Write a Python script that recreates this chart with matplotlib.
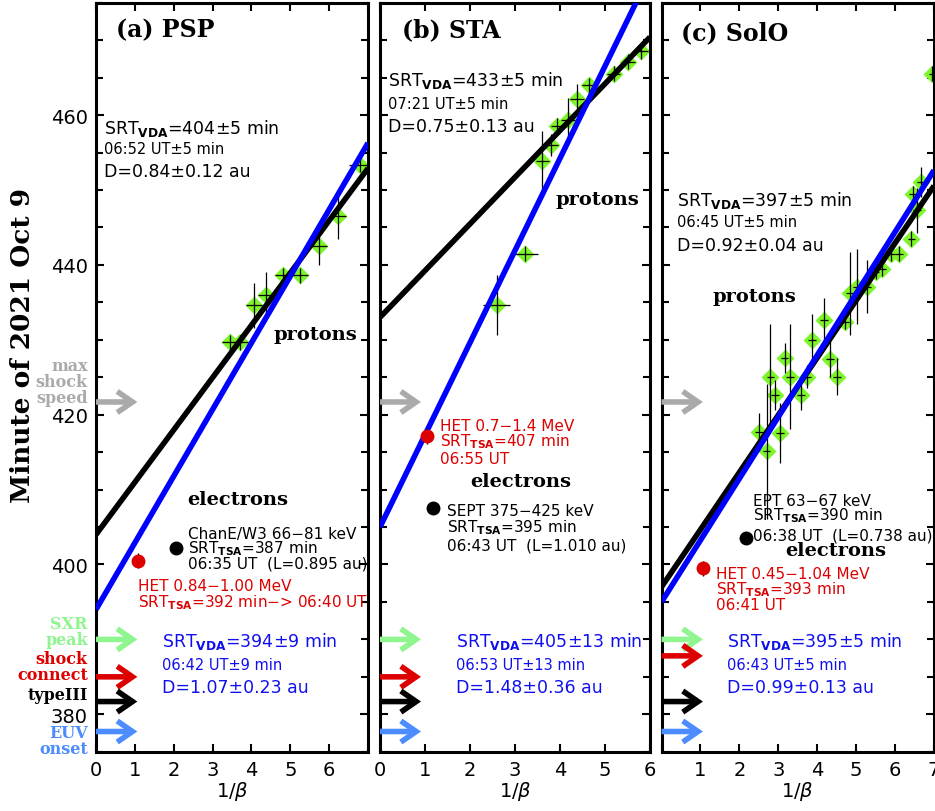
import numpy as np
import matplotlib.pyplot as plt
from matplotlib.ticker import MultipleLocator

plt.rcParams['mathtext.fontset'] = 'dejavusans'

AU_MIN = 8.317  # light travel time for 1 au, minutes

# ------------------------------------------
# Proton onsets (1/beta, minute of 2021 Oct 9)
# ------------------------------------------

psp_x = [3.45, 3.71, 4.07, 4.38, 4.80, 5.25, 5.74, 6.24, 6.80]
psp_y = [429.7, 429.7, 434.6, 436.0, 438.6, 438.6, 442.5, 446.5, 453.4]
psp_xerr = [0.2, 0.2, 0.2, 0.2, 0.2, 0.2, 0.2, 0.2, 0.3]
psp_yerr = [1.0, 1.0, 3.0, 3.0, 1.0, 1.0, 2.5, 3.0, 1.0]

sta_x = [2.59, 3.22, 3.61, 3.80, 3.94, 4.18, 4.38, 4.64, 5.19, 5.52, 5.81]
sta_y = [434.6, 441.5, 453.9, 456.0, 458.6, 459.3, 462.2, 464.0, 465.5, 467.1, 468.5]
sta_xerr = [0.3, 0.3, 0.15, 0.15, 0.15, 0.15, 0.15, 0.15, 0.15, 0.15, 0.15]
sta_yerr = [4.0, 1.0, 4.0, 1.5, 1.0, 3.0, 2.0, 1.0, 1.0, 1.0, 1.0]

solo_x = [2.50, 2.70, 2.80, 2.92, 3.04, 3.16, 3.30, 3.58, 3.75, 3.86, 4.17, 4.33, 4.50,
          4.71, 4.84, 5.03, 5.29, 5.50, 5.67, 5.89, 6.10, 6.42, 6.57, 6.47, 6.66, 6.96]
solo_y = [417.7, 415.1, 425.1, 422.6, 417.5, 427.6, 425.1, 422.6, 425.1, 430.0, 432.6, 427.5, 425.1,
          432.4, 436.2, 437.1, 437.1, 439.1, 439.5, 441.5, 441.5, 443.5, 447.3, 449.5, 451.1, 465.5]
solo_xerr = [0.1] * 26
solo_yerr = [2.5, 9.0, 7.0, 2.0, 4.0, 2.0, 7.0, 2.0, 1.5, 3.5, 3.0, 2.5, 2.5,
             1.0, 5.5, 5.0, 3.5, 1.0, 1.0, 1.0, 1.0, 1.0, 3.0, 1.0, 2.0, 1.0]

# VDA fits: (SRT [min], path length D [au])
psp_fit_p, psp_fit_e = (404, 0.84), (394, 1.07)
sta_fit_p, sta_fit_e = (433, 0.75), (405, 1.48)
solo_fit_p, solo_fit_e = (397, 0.92), (395, 0.99)

# Electron onsets (1/beta, minute)
psp_het, psp_low = (1.07, 400.5), (2.05, 402.2)
sta_het, sta_low = (1.05, 417.1), (1.18, 407.5)
solo_het, solo_low = (1.07, 399.5), (2.17, 403.6)

# Solar event times shown as arrows
event_names = ['max\nshock\nspeed', 'SXR\npeak', 'shock\nconnect', 'typeIII', 'EUV\nonset']
event_colors = ['#aaaaaa', '#8ff58f', '#dd0000', 'black', '#4d8cff']
psp_events = [421.7, 390.0, 385.0, 381.7, 377.7]
sta_events = [421.7, 390.0, 385.0, 381.7, 377.7]
solo_events = [421.7, 390.0, 387.8, 381.7, 377.7]
event_label_y = [424.4, 391.0, 386.4, 382.7, 376.5]

# ------------------------------------------
# Figure
# ------------------------------------------

fig = plt.figure(figsize=(9.35, 8.12), dpi=100)
bot, hgt = 0.0730, 0.9223
ax_a = fig.add_axes([0.1027, bot, 0.2909, hgt])
ax_b = fig.add_axes([0.4064, bot, 0.2888, hgt])
ax_c = fig.add_axes([0.7075, bot, 0.2914, hgt])

SANS = 'DejaVu Sans'
SERIF = 'DejaVu Serif'


def draw_panel(ax, xmax, px, py, pxe, pye, fit_p, fit_e, het, low, events):
    ax.set_xlim(0, xmax)
    ax.set_ylim(375, 475)

    # proton onsets
    ax.plot(px, py, 'D', color='#7cf52a', ms=9.5, mec='none', zorder=2)
    ax.errorbar(px, py, xerr=pxe, yerr=pye, fmt='none', ecolor='black',
                elinewidth=0.9, capsize=0, zorder=3)

    # VDA fits
    xx = np.array([0, xmax])
    ax.plot(xx, fit_p[0] + fit_p[1] * AU_MIN * xx, color='black', lw=4, zorder=4,
            solid_capstyle='butt')
    ax.plot(xx, fit_e[0] + fit_e[1] * AU_MIN * xx, color='#0000ff', lw=4, zorder=4,
            solid_capstyle='butt')

    # electron onsets
    ax.errorbar([het[0]], [het[1]], yerr=[1.0], fmt='o', color='#dd0000', ms=9,
                ecolor='black', elinewidth=1, zorder=5)
    ax.plot([low[0]], [low[1]], 'o', color='black', ms=9, zorder=5)

    # event arrows
    for y, c in zip(events, event_colors):
        ax.annotate('', xy=(0.152, y), xytext=(0.0, y),
                    xycoords=ax.get_yaxis_transform(),
                    textcoords=ax.get_yaxis_transform(),
                    arrowprops=dict(arrowstyle='->,head_length=0.55,head_width=0.38',
                                    color=c, lw=4, shrinkA=0, shrinkB=0,
                                    mutation_scale=20, joinstyle='miter',
                                    capstyle='butt'),
                    zorder=6)

    ax.yaxis.set_major_locator(MultipleLocator(20))
    ax.yaxis.set_minor_locator(MultipleLocator(5))
    ax.tick_params(axis='both', which='both', direction='in', top=True, right=True,
                   width=1.5, labelsize=14, pad=6)
    ax.tick_params(axis='both', which='major', length=6)
    ax.tick_params(axis='y', which='minor', length=5)
    for s in ax.spines.values():
        s.set_linewidth(2.2)
    ax.set_xlabel('1/$\\beta$', fontsize=14, labelpad=0)


def vda_text(ax, x, y0, srt, err, ut, d, derr, color='black', dy=(0, 3.0, 6.0)):
    ax.text(x, y0 - dy[0], f'SRT$_{{\\mathbf{{VDA}}}}$={srt}±{err} min', color=color,
            fontsize=12.5, family=SANS, va='center')
    ax.text(x, y0 - dy[1], f'{ut} UT±{err} min', color=color, fontsize=10.5,
            family=SANS, va='center')
    ax.text(x, y0 - dy[2], f'D={d:.2f}±{derr:.2f} au', color=color, fontsize=12.5,
            family=SANS, va='center')


def tsa_text(ax, x, ys, lines, color):
    for y, s in zip(ys, lines):
        ax.text(x, y, s, color=color, fontsize=11, family=SANS, va='center')


def bold_label(ax, x, y, s, size=14, **kw):
    ax.text(x, y, s, fontsize=size, family=SERIF, fontweight='bold', va='center', **kw)


# (a) PSP
draw_panel(ax_a, 7, psp_x, psp_y, psp_xerr, psp_yerr, psp_fit_p, psp_fit_e,
           psp_het, psp_low, psp_events)
ax_a.set_xticks(range(8))
ax_a.set_xticklabels(['0', '1', '2', '3', '4', '5', '6', ''])
ax_a.set_yticks([380, 400, 420, 440, 460])
ax_a.set_ylabel('Minute of 2021 Oct 9', fontsize=19, family=SERIF, fontweight='bold')
ax_a.yaxis.set_label_coords(-0.225, 0.544)
bold_label(ax_a, 0.52, 471.5, '(a) PSP', size=17)
vda_text(ax_a, 0.21, 458.4, 404, 5, '06:52', 0.84, 0.12, dy=(0, 2.8, 5.8))
bold_label(ax_a, 4.56, 430.8, 'protons')
bold_label(ax_a, 2.35, 408.8, 'electrons')
tsa_text(ax_a, 2.37, [404.2, 402.2, 400.2],
         ['ChanE/W3 66−81 keV', 'SRT$_{\\mathbf{TSA}}$=387 min', '06:35 UT  (L=0.895 au)'],
         'black')
tsa_text(ax_a, 1.08, [397.2, 395.1],
         ['HET 0.84−1.00 MeV', 'SRT$_{\\mathbf{TSA}}$=392 min−> 06:40 UT'], '#dd0000')
vda_text(ax_a, 1.70, 389.9, 394, 9, '06:42', 1.07, 0.23, color='#1010ee',
         dy=(0, 3.2, 6.3))

# labels of the event arrows, left of panel (a)
for s, y, c in zip(event_names, event_label_y, event_colors):
    ax_a.text(-0.21, y, s, color=c, fontsize=11.5, family=SERIF, fontweight='bold',
              ha='right', va='center', linespacing=0.92, clip_on=False)

# (b) STA
draw_panel(ax_b, 6, sta_x, sta_y, sta_xerr, sta_yerr, sta_fit_p, sta_fit_e,
           sta_het, sta_low, sta_events)
ax_b.set_xticks(range(7))
ax_b.set_yticklabels([])
bold_label(ax_b, 0.49, 471.5, '(b) STA', size=17)
vda_text(ax_b, 0.18, 464.7, 433, 5, '07:21', 0.75, 0.13, dy=(0, 3.1, 6.1))
bold_label(ax_b, 3.89, 448.8, 'protons')
bold_label(ax_b, 2.0, 411.1, 'electrons')
tsa_text(ax_b, 1.33, [418.6, 416.6, 414.2],
         ['HET 0.7−1.4 MeV', 'SRT$_{\\mathbf{TSA}}$=407 min', '06:55 UT'], '#dd0000')
tsa_text(ax_b, 1.49, [407.2, 405.1, 402.6],
         ['SEPT 375−425 keV', 'SRT$_{\\mathbf{TSA}}$=395 min', '06:43 UT  (L=1.010 au)'],
         'black')
vda_text(ax_b, 1.69, 389.9, 405, 13, '06:53', 1.48, 0.36, color='#1010ee',
         dy=(0, 3.2, 6.3))

# (c) SolO
draw_panel(ax_c, 7, solo_x, solo_y, solo_xerr, solo_yerr, solo_fit_p, solo_fit_e,
           solo_het, solo_low, solo_events)
ax_c.set_xticks(range(8))
ax_c.set_xticklabels(['', '1', '2', '3', '4', '5', '6', '7'])
ax_c.set_yticklabels([])
bold_label(ax_c, 0.50, 471.1, '(c) SolO', size=17)
vda_text(ax_c, 0.40, 448.8, 397, 5, '06:45', 0.92, 0.04, dy=(0, 3.0, 6.1))
bold_label(ax_c, 1.32, 435.9, 'protons')
bold_label(ax_c, 3.17, 401.9, 'electrons')
tsa_text(ax_c, 2.35, [408.6, 406.6, 404.0],
         ['EPT 63−67 keV', 'SRT$_{\\mathbf{TSA}}$=390 min', '06:38 UT  (L=0.738 au)'],
         'black')
tsa_text(ax_c, 1.40, [398.8, 396.8, 394.7],
         ['HET 0.45−1.04 MeV', 'SRT$_{\\mathbf{TSA}}$=393 min', '06:41 UT'], '#dd0000')
vda_text(ax_c, 1.68, 389.9, 395, 5, '06:43', 0.99, 0.13, color='#1010ee',
         dy=(0, 3.2, 6.3))

fig.savefig('out.png', dpi=100)
